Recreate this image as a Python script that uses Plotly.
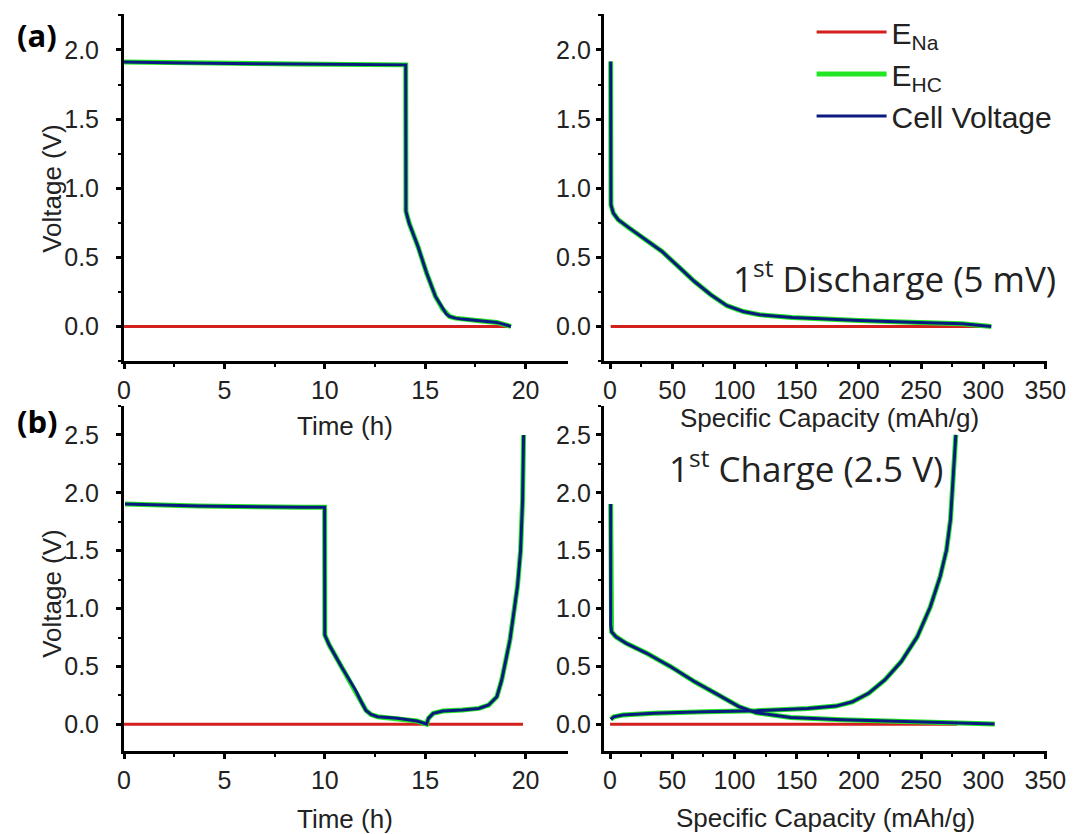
import plotly.graph_objects as go

# ---------------- data ----------------
# (a) 1st discharge, voltage vs time
t_dis = [0.0, 3.0, 8.5, 14.03, 14.04, 14.2, 14.64, 15.07, 15.51, 15.86, 16.05, 16.21, 16.5, 16.82, 17.69, 18.57, 19.27]
v_dis_t = [1.912, 1.905, 1.898, 1.892, 0.832, 0.747, 0.578, 0.386, 0.217, 0.128, 0.09, 0.072, 0.06, 0.053, 0.041, 0.029, 0.0]
t_na_a = [0.0, 19.2]
e_na_a = [0.0, 0.0]

# (a) 1st discharge, voltage vs specific capacity
c_dis = [0.5, 0.5, 0.7, 2.6, 6.5, 15.6, 28.7, 41.8, 54.8, 67.9, 81, 94, 107.1, 120.2, 146.4, 172.5, 200.4, 241.7, 283, 306.5]
v_dis_c = [1.916, 1.06, 0.88, 0.82, 0.772, 0.711, 0.627, 0.542, 0.434, 0.325, 0.229, 0.150, 0.108, 0.085, 0.065, 0.053, 0.043, 0.031, 0.019, 0.0]
c_na_a = [0.5, 305]
e_na_ac = [0.0, 0.0]

# (b) discharge + 1st charge, voltage vs time
t_ch = [0.05, 3.67, 8.91, 9.99, 10.0, 10.22, 10.83, 11.53, 11.8, 12.05, 12.3, 12.63, 13.61, 14.59, 15.07,
        15.16, 15.4, 15.89, 16.86, 17.67, 18.16, 18.57, 18.81, 19.06, 19.22, 19.4, 19.6, 19.75, 19.85, 19.9]
v_ch_t = [1.904, 1.887, 1.875, 1.875, 0.772, 0.685, 0.498, 0.296, 0.2, 0.12, 0.085, 0.066, 0.052, 0.029, 0.003,
          0.052, 0.095, 0.115, 0.124, 0.138, 0.167, 0.239, 0.383, 0.584, 0.729, 0.95, 1.2, 1.5, 1.94, 2.5]
t_na_b = [0.0, 19.87]
e_na_b = [0.0, 0.0]

# (b) voltage vs specific capacity: discharge branch then charge branch
c_b_dis = [0.5, 0.5, 1.2, 4.7, 13, 29.5, 48.8, 68.1, 87.4, 103.9, 117.7, 145.2, 186.6, 241.7, 283, 309.2]
v_b_dis = [1.904, 0.86, 0.8, 0.757, 0.70, 0.614, 0.498, 0.368, 0.253, 0.152, 0.1, 0.06, 0.04, 0.025, 0.014, 0.003]
c_b_ch = [0.6, 3, 10.2, 35, 76.4, 117.7, 159, 181.7, 194.8, 207.8, 220.9, 234, 247, 257.5, 265.4, 270.5,
          273.7, 275.2, 276.2, 278]
v_b_ch = [0.043, 0.065, 0.08, 0.095, 0.109, 0.118, 0.138, 0.158, 0.195, 0.268, 0.383, 0.541, 0.757, 1.016,
          1.276, 1.506, 1.766, 2.054, 2.256, 2.5]
c_na_b = [0.0, 279]
e_na_bc = [0.0, 0.0]

x_tick_time = [0, 5, 10, 15, 20]
x_tick_cap = [0, 50, 100, 150, 200, 250, 300, 350]

# ---------------- styling ----------------
RED = "#d41f1f"
GREEN = "#22e622"
BLUE = "#0b1a80"
FONT = "Liberation Sans, Arial, sans-serif"
W, H = 1091, 834

fig = go.Figure()

def add_panel(xa, ya, xr, er, xv, vv, show):
    fig.add_trace(go.Scatter(x=xr, y=er, mode="lines", line=dict(color=RED, width=3),
                             name="E<sub>Na</sub>", showlegend=show, legendgroup="na",
                             xaxis=xa, yaxis=ya))
    fig.add_trace(go.Scatter(x=xv, y=vv, mode="lines", line=dict(color=GREEN, width=5),
                             name="E<sub>HC</sub>", showlegend=show, legendgroup="hc",
                             xaxis=xa, yaxis=ya, connectgaps=False))
    fig.add_trace(go.Scatter(x=xv, y=vv, mode="lines", line=dict(color=BLUE, width=3),
                             name="Cell Voltage", showlegend=show, legendgroup="cell",
                             xaxis=xa, yaxis=ya, connectgaps=False))

add_panel("x", "y", t_na_a, e_na_a, t_dis, v_dis_t, False)
add_panel("x2", "y2", c_na_a, e_na_ac, c_dis, v_dis_c, True)
add_panel("x3", "y3", t_na_b, e_na_b, t_ch, v_ch_t, False)
add_panel("x4", "y4", c_na_b, e_na_bc, c_b_dis + [None] + c_b_ch, v_b_dis + [None] + v_b_ch, False)

def px_x(a, b):
    return [a / W, b / W]

def px_y(top, bottom):
    return [1 - bottom / H, 1 - top / H]

axis_common = dict(showline=True, linecolor="black", linewidth=3, ticks="outside", ticklen=5,
                   tickwidth=2.5, tickcolor="black", showgrid=False, zeroline=False,
                   tickfont=dict(family=FONT, size=25, color="#222"),
                   minor=dict(ticks="outside", ticklen=3, tickwidth=2, tickcolor="black"))

lay = dict(
    width=W, height=H, margin=dict(l=0, r=0, t=0, b=0),
    paper_bgcolor="white", plot_bgcolor="white",
    font=dict(family=FONT, color="#222"),
    showlegend=True,
    legend=dict(x=825 / W, y=1 - 6 / H, xanchor="left", yanchor="top",
                bgcolor="rgba(0,0,0,0)", font=dict(family=FONT, size=30, color="#222"),
                itemwidth=70, tracegroupgap=0),
)
lay["xaxis"] = dict(axis_common, domain=px_x(120, 575), range=[0, 22.1], tickvals=x_tick_time,
                    minor=dict(axis_common["minor"], dtick=2.5, tick0=0), anchor="y")
lay["yaxis"] = dict(axis_common, domain=px_y(14, 361), range=[-0.25, 2.26], dtick=0.5, tickformat=".1f",
                    minor=dict(axis_common["minor"], dtick=0.25, tick0=0), anchor="x", ticklabelstandoff=12)
lay["xaxis2"] = dict(axis_common, domain=px_x(612, 1066), range=[-5, 351], tickvals=x_tick_cap,
                     minor=dict(axis_common["minor"], dtick=25, tick0=0), anchor="y2")
lay["yaxis2"] = dict(axis_common, domain=px_y(14, 361), range=[-0.25, 2.26], dtick=0.5, tickformat=".1f",
                     minor=dict(axis_common["minor"], dtick=0.25, tick0=0), anchor="x2")
lay["xaxis3"] = dict(axis_common, domain=px_x(120, 575), range=[0, 22.1], tickvals=x_tick_time,
                     minor=dict(axis_common["minor"], dtick=2.5, tick0=0), anchor="y3")
lay["yaxis3"] = dict(axis_common, domain=px_y(406, 751), range=[-0.23, 2.75], dtick=0.5, tickformat=".1f",
                     minor=dict(axis_common["minor"], dtick=0.25, tick0=0), anchor="x3", ticklabelstandoff=12)
lay["xaxis4"] = dict(axis_common, domain=px_x(612, 1066), range=[-5, 351], tickvals=x_tick_cap,
                     minor=dict(axis_common["minor"], dtick=25, tick0=0), anchor="y4")
lay["yaxis4"] = dict(axis_common, domain=px_y(406, 751), range=[-0.23, 2.75], dtick=0.5, tickformat=".1f",
                     minor=dict(axis_common["minor"], dtick=0.25, tick0=0), anchor="x4")
fig.update_layout(**lay)

def ann(text, x, y, size, family=FONT, angle=0, bold=False, xanchor="center"):
    fig.add_annotation(text=("<b>%s</b>" % text) if bold else text, x=x / W, y=1 - y / H,
                       xref="paper", yref="paper", showarrow=False, textangle=angle,
                       xanchor=xanchor, yanchor="middle",
                       font=dict(family=family, size=size, color="#222" if not bold else "black"))

# axis titles
ann("Voltage (V)", 46, 188, 26, angle=-90)
ann("Time (h)", 347, 426, 26)
ann("Specific Capacity (mAh/g)", 843, 418, 26)
ann("Voltage (V)", 46, 593, 26, angle=-90)
ann("Time (h)", 347, 819, 26)
ann("Specific Capacity (mAh/g)", 839, 818, 26)

# panel labels
ann("(a)", 31, 35, 31, family="Open Sans, sans-serif", bold=True)
ann("(b)", 31, 421, 31, family="Open Sans, sans-serif", bold=True)

# condition labels
ann("1<sup>st</sup> Discharge (5 mV)", 1078, 277, 35, family="Open Sans, sans-serif", xanchor="right")
ann("1<sup>st</sup> Charge (2.5 V)", 962, 467, 35, family="Open Sans, sans-serif", xanchor="right")

fig.write_html("out.html")
